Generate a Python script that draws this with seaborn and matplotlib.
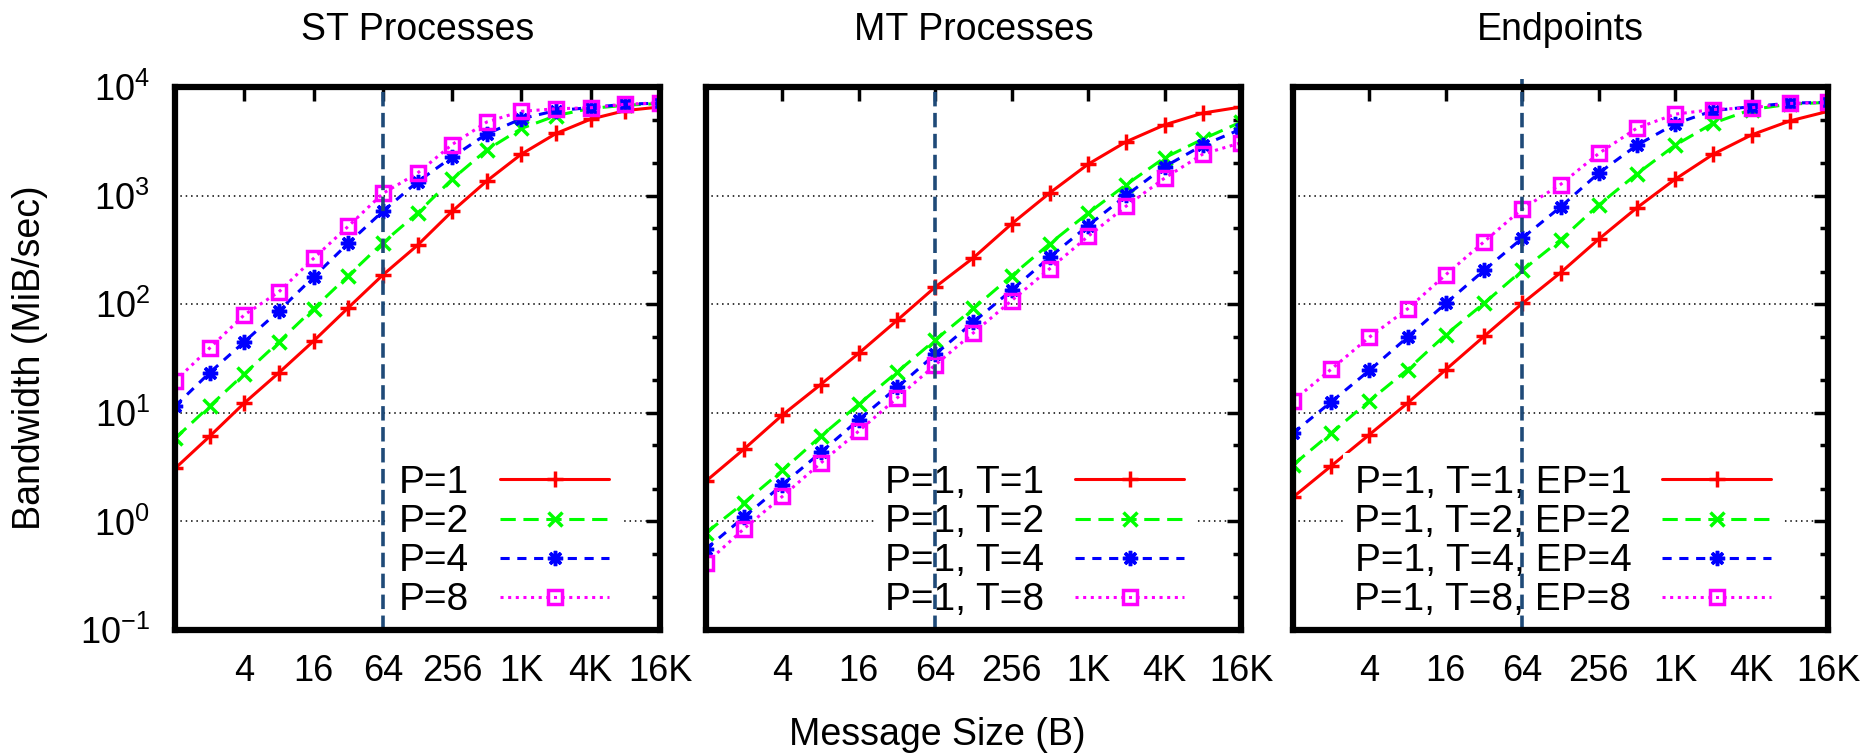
import matplotlib
matplotlib.use("Agg")
import matplotlib.pyplot as plt
import numpy as np
import pandas as pd
import seaborn as sns
from matplotlib.ticker import FixedLocator, FixedFormatter, NullFormatter

sns.set_style("white")
plt.rcParams['font.family'] = ['Liberation Sans', 'DejaVu Sans']
plt.rcParams['mathtext.fontset'] = 'custom'
plt.rcParams['mathtext.rm'] = 'Liberation Sans'
plt.rcParams['mathtext.it'] = 'Liberation Sans'
plt.rcParams['mathtext.default'] = 'regular'
plt.rcParams['text.color'] = 'black'
plt.rcParams['axes.labelcolor'] = 'black'
plt.rcParams['xtick.color'] = 'black'
plt.rcParams['ytick.color'] = 'black'

# message sizes (bytes)
sizes = [1, 2, 4, 8, 16, 32, 64, 128, 256, 512, 1024, 2048, 4096, 8192, 16384]
xtick_vals = [1, 4, 16, 64, 256, 1024, 4096, 16384]
xtick_labels = ['', '4', '16', '64', '256', '1K', '4K', '16K']
ytick_vals = [0.1, 1, 10, 100, 1000, 10000]
ytick_labels = ['$10^{-1}$', '$10^{0}$', '$10^{1}$', '$10^{2}$', '$10^{3}$', '$10^{4}$']

titles = ['ST Processes', 'MT Processes', 'Endpoints']

# ST processes
st_labels = ['P=1', 'P=2', 'P=4', 'P=8']
st_p1 = [3.07, 6.07, 12.3, 23.4, 45.8, 92.7, 186, 349, 717, 1364, 2410, 3734, 5058, 6068, 6546]
st_p2 = [5.8, 11.5, 22.8, 45, 91, 183, 368, 690, 1416, 2636, 4150, 5455, 6350, 6790, 7060]
st_p4 = [11.5, 23.4, 45, 87, 178, 364, 717, 1340, 2260, 3700, 5100, 6070, 6460, 6950, 7100]
st_p8 = [19.6, 39.4, 79.7, 130, 264, 521, 1047, 1611, 2953, 4761, 5970, 6300, 6440, 6930, 7160]

# MT processes
mt_labels = ['P=1, T=1', 'P=1, T=2', 'P=1, T=4', 'P=1, T=8']
mt_t1 = [2.35, 4.65, 9.55, 18.2, 35.4, 71, 144, 268, 550, 1062, 1947, 3140, 4480, 5755, 6545]
mt_t2 = [0.785, 1.49, 2.95, 6.07, 12.0, 23.7, 46.9, 91.3, 183, 362, 690, 1265, 2230, 3310, 4760]
mt_t4 = [0.558, 1.10, 2.18, 4.31, 8.66, 17.1, 34.6, 68.5, 135, 272, 530, 1007, 1846, 2910, 4090]
mt_t8 = [0.412, 0.86, 1.70, 3.44, 6.8, 13.7, 27.6, 54.6, 108, 213, 422, 803, 1449, 2409, 3069]

# Endpoints
ep_labels = ['P=1, T=1, EP=1', 'P=1, T=2, EP=2', 'P=1, T=4, EP=4', 'P=1, T=8, EP=8']
ep_e1 = [1.67, 3.24, 6.3, 12.3, 25, 50.6, 101.6, 195, 397, 773, 1416, 2410, 3623, 4870, 5970]
ep_e2 = [3.31, 6.5, 12.9, 25, 52.5, 102, 205, 391, 821, 1585, 2910, 4655, 6205, 6950, 7220]
ep_e4 = [6.5, 12.6, 24.6, 49.8, 102, 205, 406, 785, 1611, 2910, 4580, 6070, 6590, 7110, 7220]
ep_e8 = [12.9, 25.2, 49.8, 90.6, 187, 376, 756, 1265, 2443, 4186, 5623, 6205, 6440, 7060, 7220]

panels = [
    (st_labels, [st_p1, st_p2, st_p4, st_p8]),
    (mt_labels, [mt_t1, mt_t2, mt_t4, mt_t8]),
    (ep_labels, [ep_e1, ep_e2, ep_e4, ep_e8]),
]

# gnuplot-like line styles
series_styles = [
    dict(color='#ff0000', marker='+', ms=12, mfc='#ff0000', dashes=None),
    dict(color='#00ff00', marker='x', ms=10, mfc='#00ff00', dashes=(5, 2.5)),
    dict(color='#0000ff', marker=(8, 2, 0), ms=11, mfc='#0000ff', dashes=(3, 2.5)),
    dict(color='#ff00ff', marker='s', ms=10, mfc='none', dashes=(1, 1.5)),
]

W, H = 1875, 755
fig = plt.figure(figsize=(W / 100, H / 100), dpi=100)

# axes rectangles in pixels: (left, right), top / bottom shared
ax_px = [(175, 660), (706, 1241), (1293, 1828)]
top_px, bot_px = 87, 630
legend_gap = [39, 45, 45]

FS = 26

for i, ((labels, series), (l, r)) in enumerate(zip(panels, ax_px)):
    ax = fig.add_axes([l / W, (H - bot_px) / H, (r - l) / W, (bot_px - top_px) / H])

    handles = []
    for lab, vals, st in zip(labels, series, series_styles):
        df = pd.DataFrame({'size': sizes, 'bw': vals})
        sns.lineplot(data=df, x='size', y='bw', ax=ax, color=st['color'],
                     marker=st['marker'], markersize=st['ms'],
                     markeredgecolor=st['color'], markerfacecolor=st['mfc'],
                     markeredgewidth=2.5, linewidth=2.2, legend=False,
                     zorder=3)
        line = ax.lines[-1]
        if st['dashes'] is not None:
            line.set_dashes(st['dashes'])
        line.set_label(lab)
        handles.append(line)

    ax.set_xscale('log', base=2)
    ax.set_yscale('log')
    ax.set_xlim(1, 16384)
    ax.set_ylim(0.1, 10000)

    # horizontal dotted grid
    for gy in [1, 10, 100, 1000]:
        ax.axhline(gy, color='black', lw=1.1, ls=(0, (1, 2.5)), zorder=1)

    # vertical marker at 64 B
    ax.axvline(64, ymin=0, ymax=1.015 if i == 2 else 1.0, color='#1f4a78',
               lw=2.6, dashes=(4, 1.8), zorder=6, clip_on=False)

    ax.xaxis.set_major_locator(FixedLocator(xtick_vals))
    ax.xaxis.set_major_formatter(FixedFormatter(xtick_labels))
    ax.xaxis.set_minor_locator(FixedLocator([]))
    ax.yaxis.set_major_locator(FixedLocator(ytick_vals))
    minors = [m * 10.0 ** e for e in range(-1, 4) for m in (2, 5)]
    ax.yaxis.set_minor_locator(FixedLocator(minors))
    ax.yaxis.set_minor_formatter(NullFormatter())
    if i == 0:
        ax.yaxis.set_major_formatter(FixedFormatter(ytick_labels))
    else:
        ax.yaxis.set_major_formatter(NullFormatter())

    ax.tick_params(which='both', direction='in', top=True, right=True,
                   width=2.5, colors='black', labelsize=FS)
    ax.tick_params(which='major', length=10)
    ax.tick_params(which='minor', length=6)
    ax.tick_params(axis='x', pad=17)
    ax.tick_params(axis='y', pad=18)

    for sp in ax.spines.values():
        sp.set_linewidth(4.5)
        sp.set_color('black')
        sp.set_zorder(7)

    ax.set_xlabel('')
    ax.set_ylabel('')
    ax.set_title(titles[i], fontsize=27, pad=34, color='black')

    pw = r - l
    leg = ax.legend(handles=handles, labels=labels, loc='lower right',
                    bbox_to_anchor=(1 - legend_gap[i] / pw, 0.0),
                    markerfirst=False, frameon=True, fancybox=False,
                    edgecolor='none', facecolor='white', framealpha=1,
                    fontsize=28, handlelength=2.8, handletextpad=0.8,
                    labelspacing=0.08, borderpad=0.3, borderaxespad=0.0,
                    numpoints=1)
    for t in leg.get_texts():
        t.set_color('black')
    leg.set_zorder(5)

fig.text(30 / W, (H - 358) / H, 'Bandwidth (MiB/sec)', rotation=90,
         ha='center', va='center', fontsize=27, color='black')
fig.text(0.5, (H - 735) / H, 'Message Size (B)', ha='center', va='center',
         fontsize=27, color='black')

fig.savefig('out.png', dpi=100)
